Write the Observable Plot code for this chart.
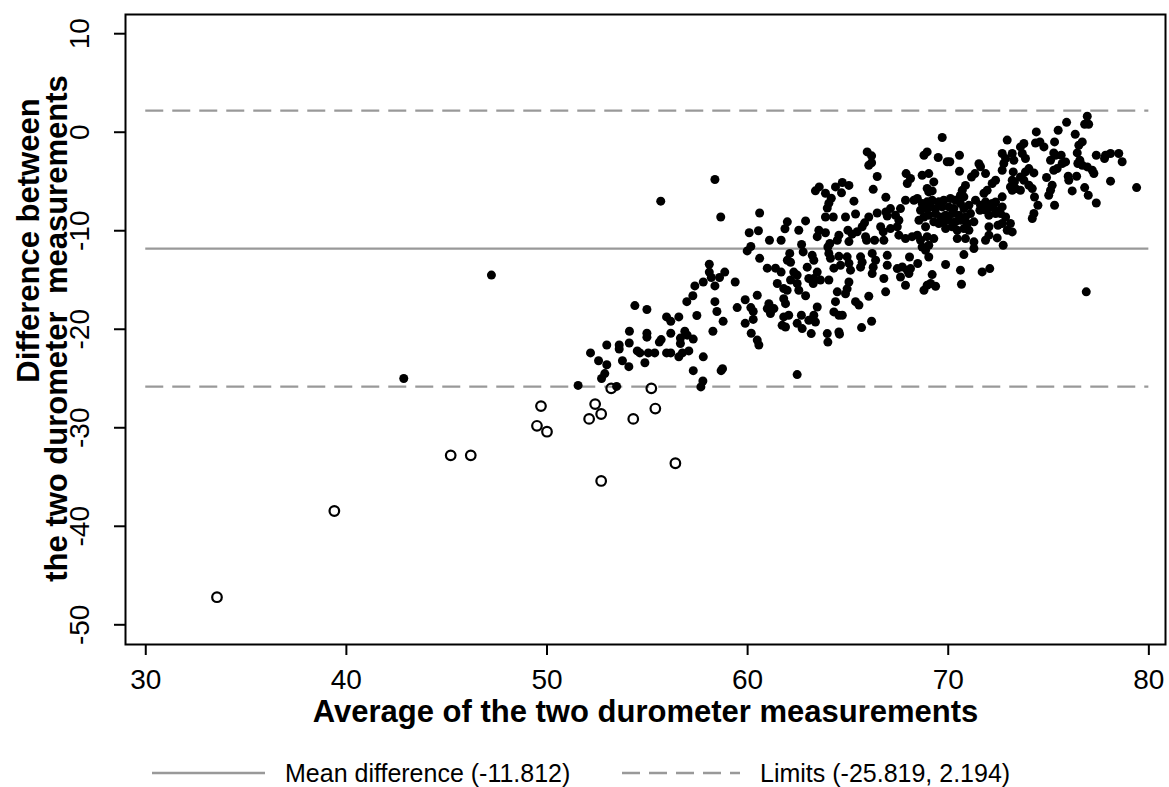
<!DOCTYPE html>
<html>
<head>
<meta charset="utf-8">
<script src="https://cdn.jsdelivr.net/npm/d3@7"></script>
<script src="https://cdn.jsdelivr.net/npm/@observablehq/plot@0.6"></script>
<style>
  html, body { margin: 0; padding: 0; background: #fff; }
  body { width: 1169px; height: 787px; overflow: hidden; font-family: "Liberation Sans", Arial, sans-serif; }
  #legend { position: relative; height: 37px; }
  .item { position: absolute; top: 8px; height: 30px; display: flex; align-items: center; font-size: 25px; color: #000; white-space: pre; }
  .item svg { margin-right: 20px; }
</style>
</head>
<body>
<div id="chart"></div>
<div id="legend"></div>
<script>
// Bland–Altman agreement of two durometer readings
const meanDiff = -11.812;
const limits = [-25.819, 2.194];
const lineSpan = [30, 80];
const xTicks = [30, 40, 50, 60, 70, 80];
const yTicks = [10, 0, -10, -20, -30, -40, -50];
const xTitle = "Average of the two durometer measurements";
const yTitle = ["Difference between", "the two durometer  measurements"];

// [average, difference] — hollow markers
const openPts = [
  [33.55,-47.2],[39.4,-38.45],[45.2,-32.8],[46.2,-32.8],[49.5,-29.8],[49.7,-27.8],
  [50.0,-30.4],[52.1,-29.1],[52.4,-27.6],[52.7,-28.6],[52.7,-35.4],[53.2,-26.0],
  [54.3,-29.1],[55.2,-26.0],[55.4,-28.05],[56.4,-33.6]
];

// [average, difference] — solid markers
const filledPts = [
  [42.86,-25.0],[47.23,-14.5],
  [58.37,-4.8],[55.67,-7.0],[58.66,-8.6],[60.6,-8.2],[60.08,-10.2],[60.54,-10.0],[60.16,-11.6],[59.98,-12.05],
  [60.6,-12.8],[58.09,-13.4],[58.09,-14.2],[58.19,-14.75],[58.6,-14.75],[58.86,-14.2],[57.79,-15.2],[57.37,-15.6],
  [58.37,-15.6],[59.38,-15.2],[57.27,-16.6],[56.97,-17.2],[58.37,-17.2],[58.47,-18.2],[57.47,-18.6],[58.78,-19.2],
  [58.27,-20.2],[59.88,-17.0],[59.48,-17.8],[60.16,-17.8],[60.28,-18.2],[60.28,-19.0],[59.88,-19.4],[60.18,-20.4],
  [60.48,-21.1],[60.48,-16.55],[54.38,-17.6],[54.98,-18.0],[55.96,-18.75],[56.17,-19.2],[56.57,-18.75],[54.11,-20.2],
  [54.98,-20.4],[54.98,-20.8],[56.17,-20.4],[56.87,-20.2],[56.99,-20.6],[57.29,-21.0],[56.65,-20.9],[56.65,-21.45],
  [55.6,-21.3],[55.69,-21.05],[54.1,-21.4],[53.6,-21.6],[53.6,-22.0],[52.98,-21.6],[52.17,-22.4],[52.57,-23.2],
  [52.98,-23.6],[53.76,-23.2],[54.08,-23.8],[54.5,-22.2],[54.63,-22.4],[55.05,-22.4],[55.37,-22.4],[54.88,-23.4],
  [55.96,-22.4],[56.17,-22.4],[56.57,-22.8],[56.75,-22.4],[57.07,-22.2],[57.79,-22.8],[57.29,-24.2],[57.77,-25.25],
  [57.67,-25.85],[58.75,-24.0],[58.68,-24.2],[52.88,-24.5],[52.72,-25.0],[51.55,-25.7],[53.47,-25.8],
  [65.96,-2.0],[66.18,-2.4],[66.04,-3.35],[66.18,-3.1],[66.46,-4.5],[66.26,-5.8],[66.89,-6.6],[63.57,-5.55],
  [63.38,-5.95],[63.88,-6.2],[64.38,-5.55],[64.72,-5.1],[65.05,-5.4],[64.68,-6.15],[65.3,-7.0],[64.17,-6.7],
  [64.05,-7.2],[63.97,-7.7],[63.88,-8.6],[64.27,-8.6],[64.88,-8.6],[65.38,-8.3],[66.04,-8.6],[66.46,-8.2],
  [66.89,-8.1],[66.96,-8.5],[61.98,-9.1],[61.86,-9.8],[62.89,-9.0],[62.55,-9.95],[61.09,-10.96],[61.67,-10.96],
  [62.69,-11.4],[63.55,-9.95],[63.88,-10.2],[63.47,-10.6],[64.1,-11.3],[64.0,-11.65],[64.55,-10.45],[64.47,-10.96],
  [65.0,-9.95],[65.21,-10.35],[65.46,-10.1],[65.05,-11.1],[65.71,-9.6],[65.83,-9.2],[65.88,-10.6],[65.93,-10.96],
  [66.33,-10.96],[66.63,-9.6],[66.76,-10.1],[66.79,-10.96],[62.1,-12.3],[62.14,-13.2],[61.98,-13.0],[62.77,-12.15],
  [63.22,-12.5],[63.3,-13.0],[64.05,-12.3],[64.13,-12.8],[64.55,-12.6],[64.96,-12.65],[64.63,-13.5],[65.05,-13.3],
  [65.63,-12.65],[65.71,-13.2],[66.21,-12.3],[66.38,-13.0],[66.26,-13.7],[66.96,-12.5],[66.96,-13.5],[60.98,-13.8],
  [61.39,-13.8],[62.97,-13.7],
  [61.67,-14.2],[62.3,-14.2],[62.47,-14.5],[63.47,-14.2],[63.3,-14.85],[63.05,-14.85],[63.63,-15.0],[64.05,-15.0],
  [63.27,-15.36],[64.3,-13.8],[65.13,-14.0],[65.05,-15.2],[64.96,-15.9],[64.88,-16.4],[65.63,-13.7],[66.21,-14.35],
  [66.79,-14.85],[66.88,-16.2],[64.47,-16.2],[64.38,-17.2],[66.04,-16.65],[65.38,-17.2],[65.55,-17.55],[61.48,-15.36],
  [61.8,-15.87],[61.97,-16.04],[62.55,-16.04],[62.47,-15.36],[62.14,-15.0],[62.89,-16.6],[61.8,-16.9],[61.89,-17.4],
  [61.06,-17.4],[61.31,-17.9],[60.98,-17.9],[61.14,-18.4],[60.56,-21.6],[61.8,-18.75],[62.05,-18.58],[61.72,-19.6],
  [61.89,-19.77],[62.68,-18.58],[62.47,-19.4],[62.72,-19.93],[63.05,-19.09],[63.3,-18.58],[63.38,-19.26],[63.17,-20.44],
  [63.47,-17.74],[64.3,-18.24],[64.55,-18.58],[64.72,-18.58],[63.97,-20.44],[64.0,-21.3],[64.55,-20.27],[64.58,-20.5],
  [65.68,-19.83],[66.18,-19.19],[62.47,-24.6],
  [69.7,-0.54],[72.94,-0.8],[68.95,-2.0],[68.79,-2.34],[69.5,-2.57],[69.95,-3.0],[70.08,-3.0],[70.56,-2.34],
  [71.53,-3.2],[71.61,-3.5],[70.56,-3.96],[72.69,-2.16],[72.86,-2.67],[72.77,-3.18],[73.19,-2.16],[73.27,-2.84],
  [72.69,-3.86],[71.33,-4.2],[71.16,-4.54],[71.86,-4.2],[67.9,-4.2],[68.12,-4.7],[67.96,-5.2],[68.7,-4.37],
  [69.03,-4.2],[69.28,-5.04],[68.95,-5.7],[69.03,-6.06],[69.2,-5.96],[70.86,-5.4],[70.7,-5.9],[70.61,-6.4],
  [70.78,-6.56],[72.36,-4.87],[72.19,-5.2],[71.94,-5.9],[71.78,-6.2],[73.19,-4.87],[73.1,-5.55],[73.19,-5.9],
  [72.69,-6.56],[72.36,-7.08],[72.11,-7.58],[71.86,-7.9],[67.87,-6.9],[68.29,-6.9],[68.46,-6.73],[67.62,-7.75],
  [67.12,-7.75],[67.37,-8.43],[67.54,-8.93],[67.46,-9.6],[67.12,-9.78],
  [68.7,-7.24],[68.95,-7.07],[69.2,-6.9],[69.53,-7.07],[69.78,-6.9],[70.11,-6.73],[70.36,-6.9],[70.61,-7.24],
  [68.62,-7.92],[68.87,-7.75],[69.12,-7.58],[69.37,-7.75],[69.7,-7.58],[70.03,-7.58],[70.28,-7.75],[70.78,-7.75],
  [71.03,-7.41],[68.79,-8.6],[69.03,-8.43],[69.37,-8.26],[69.62,-8.6],[69.87,-8.43],[70.2,-8.26],[70.53,-8.43],
  [70.86,-8.6],[71.11,-8.26],[69.28,-9.1],[69.53,-9.27],[69.78,-9.1],[70.03,-8.93],[70.36,-9.1],[70.61,-8.93],
  [70.95,-9.27],[71.28,-9.1],[69.87,-9.78],[70.2,-9.6],[70.45,-9.95],[70.78,-9.78],[71.03,-9.95],[68.87,-9.6],
  [68.54,-8.93],
  [71.36,-6.9],[71.61,-7.41],[71.86,-7.07],[72.19,-7.24],[72.36,-7.92],[72.61,-8.26],[72.86,-8.6],[73.1,-9.27],
  [72.69,-9.27],[72.94,-9.95],[73.19,-10.12],
  [67.54,-10.45],[67.87,-10.8],[68.2,-10.6],[68.46,-10.45],[68.62,-10.96],[68.95,-10.6],[69.28,-10.8],[69.03,-11.47],
  [68.7,-11.65],[70.45,-10.8],[70.86,-10.8],[71.28,-11.13],[71.86,-10.96],[72.03,-10.45],
  [68.87,-11.98],[71.28,-11.8],[68.07,-12.66],[69.03,-12.66],[68.48,-13.33],[69.87,-13.43],[70.78,-12.42],[67.46,-13.84],
  [67.71,-13.68],[67.96,-14.0],[68.12,-13.84],[67.62,-14.7],[68.04,-14.35],[69.2,-14.45],[70.61,-14.0],[67.87,-15.53],
  [68.79,-16.04],[68.95,-15.53],[69.12,-15.36],[69.37,-15.63],[70.66,-15.43],[71.69,-14.18],[72.07,-13.84],
  [76.93,1.62],[76.8,0.81],[77.0,0.81],[75.9,1.0],[75.48,0.2],[74.39,0.03],[76.33,-0.2],[76.68,-0.98],
  [76.51,-1.32],[73.77,-1.15],[73.6,-1.49],[74.35,-1.09],[74.57,-0.98],[74.77,-1.49],[75.3,-0.98],[75.26,-2.1],
  [75.63,-2.34],[76.43,-2.1],[77.38,-2.34],[77.84,-2.34],[78.09,-2.16],[78.5,-2.16],[77.79,-2.67],[78.67,-3.0],
  [73.69,-2.16],[73.85,-2.67],[73.24,-4.03],[73.3,-5.04],[73.6,-4.54],[73.85,-4.03],[74.02,-3.69],[74.27,-4.13],
  [73.77,-4.87],[74.02,-5.38],[74.19,-5.72],[73.36,-5.72],[73.6,-5.89],[74.3,-6.57],[74.47,-7.41],[74.27,-8.25],
  [74.19,-8.76],[74.9,-4.6],[75.1,-2.84],[75.35,-2.34],[75.43,-3.69],[75.26,-3.86],[75.68,-3.18],[75.85,-3.01],
  [75.98,-4.47],[76.01,-4.87],[76.4,-4.47],[75.18,-5.38],[75.1,-5.89],[75.01,-6.4],[75.3,-7.41],[76.18,-5.96],
  [76.46,-3.18],[76.56,-2.84],[76.68,-3.35],[76.93,-3.52],[77.18,-3.86],[77.26,-4.19],[76.8,-5.62],[76.98,-6.4],
  [77.38,-7.18],[78.09,-4.97],[79.39,-5.62],[76.88,-16.2],
  [71.58,-7.92],[72.07,-7.58],[72.03,-8.43],[72.36,-8.26],[72.69,-7.58],[72.48,-9.44],[72.44,-10.73],[72.74,-11.47],
  [72.03,-9.6]
];

const gray = "#999999";
const font = "'Liberation Sans', Arial, sans-serif";

const chart = Plot.plot({
  width: 1169,
  height: 750,
  marginLeft: 125,
  marginRight: 4,
  marginTop: 14,
  marginBottom: 106,
  style: { fontFamily: font, background: "white", color: "black" },
  x: { domain: [28.99, 80.83] },
  y: { domain: [-52, 11.95] },
  marks: [
    Plot.ruleY([meanDiff], { x1: lineSpan[0], x2: lineSpan[1], stroke: gray, strokeWidth: 2.4 }),
    Plot.ruleY(limits, { x1: lineSpan[0], x2: lineSpan[1], stroke: gray, strokeWidth: 2.4, strokeDasharray: "18,9" }),
    Plot.dot(filledPts, { x: d => d[0], y: d => d[1], r: 4.5, fill: "black", stroke: "none" }),
    Plot.dot(openPts, { x: d => d[0], y: d => d[1], r: 4.8, fill: "none", stroke: "black", strokeWidth: 2.2 }),
    Plot.frame({ stroke: "black", strokeWidth: 2 }),
    Plot.axisX({ ticks: xTicks, tickSize: 11, tickFormat: () => "", label: null, strokeWidth: 2 }),
    Plot.axisY({ ticks: yTicks, tickSize: 11, tickFormat: () => "", label: null, strokeWidth: 2 }),
    Plot.text(xTicks, { x: d => d, frameAnchor: "bottom", dy: 36, lineAnchor: "middle", textAnchor: "middle", text: d => String(d), fontSize: 28 }),
    Plot.text(yTicks, { y: d => d, frameAnchor: "left", dx: -45, rotate: -90, lineAnchor: "middle", textAnchor: "middle", text: d => String(d), fontSize: 28 }),
    Plot.text([xTitle], { frameAnchor: "bottom", dy: 68, lineAnchor: "middle", textAnchor: "middle", fontSize: 31, fontWeight: "bold", text: d => d }),
    Plot.text([yTitle[0]], { frameAnchor: "left", dx: -96, dy: -89, rotate: -90, lineAnchor: "middle", textAnchor: "middle", fontSize: 31, fontWeight: "bold", text: d => d }),
    Plot.text([yTitle[1]], { frameAnchor: "left", dx: -68, dy: -1, rotate: -90, lineAnchor: "middle", textAnchor: "middle", fontSize: 31, fontWeight: "bold", text: d => d })
  ]
});
document.getElementById("chart").append(chart);

// legend under the plot
const legend = document.getElementById("legend");
function swatch(dash) {
  const ns = "http://www.w3.org/2000/svg";
  const s = document.createElementNS(ns, "svg");
  s.setAttribute("width", dash ? 118 : 113);
  s.setAttribute("height", 10);
  const l = document.createElementNS(ns, "line");
  l.setAttribute("x1", 0); l.setAttribute("x2", dash ? 118 : 113);
  l.setAttribute("y1", 5); l.setAttribute("y2", 5);
  l.setAttribute("stroke", gray); l.setAttribute("stroke-width", 2.4);
  if (dash) l.setAttribute("stroke-dasharray", "18,9");
  s.append(l);
  return s;
}
const items = [
  { left: 152, dash: false, label: `Mean difference (${meanDiff})` },
  { left: 622, dash: true, label: `Limits (${limits[0]}, ${limits[1]})` }
];
for (const it of items) {
  const div = document.createElement("div");
  div.className = "item";
  div.style.left = it.left + "px";
  div.append(swatch(it.dash));
  const span = document.createElement("span");
  span.textContent = it.label;
  div.append(span);
  legend.append(div);
}
</script>
</body>
</html>
